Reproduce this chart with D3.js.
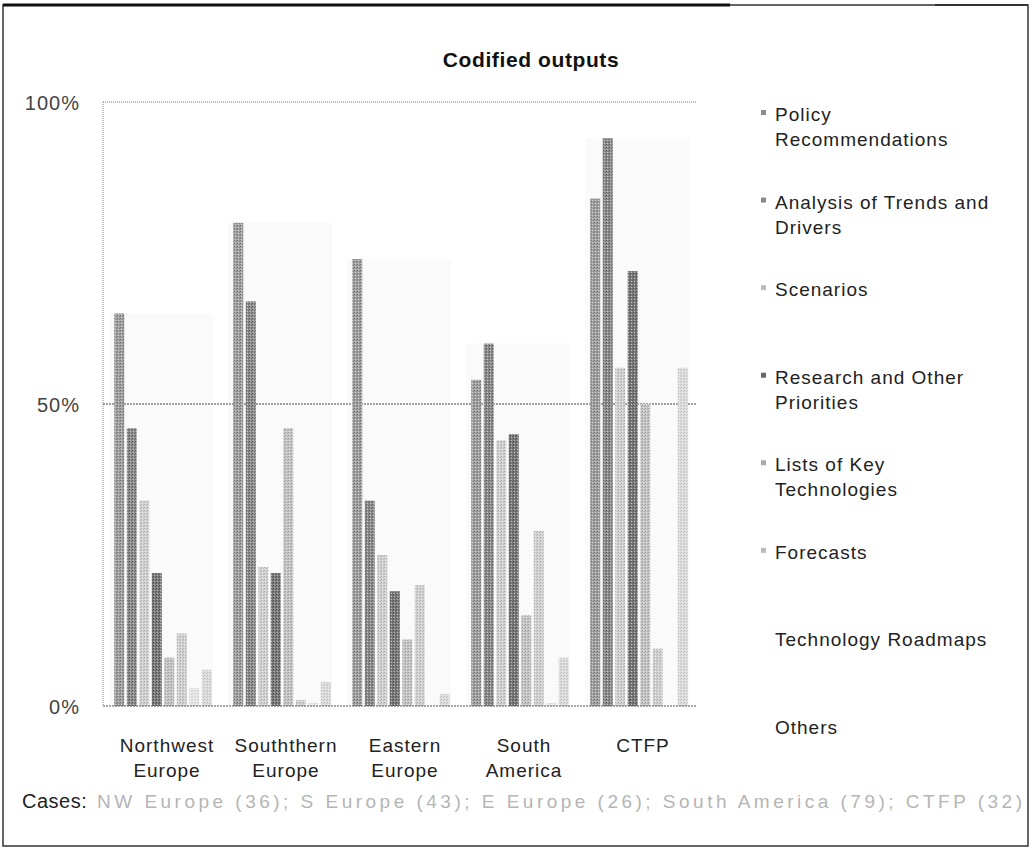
<!DOCTYPE html>
<html>
<head>
<meta charset="utf-8">
<script src="https://cdn.jsdelivr.net/npm/d3@7"></script>
<style>
  html, body { margin: 0; padding: 0; background: #fff; }
  svg { display: block; }
  text { font-family: "Liberation Sans", Arial, sans-serif; }
</style>
</head>
<body>
<svg id="chart" width="1034" height="851"></svg>
<script>
// ---- data ----
const categories = ["Northwest Europe", "Souththern Europe", "Eastern Europe", "South America", "CTFP"];
const categoryLines = [["Northwest", "Europe"], ["Souththern", "Europe"], ["Eastern", "Europe"], ["South", "America"], ["CTFP"]];
const seriesNames = ["Policy Recommendations", "Analysis of Trends and Drivers", "Scenarios",
  "Research and Other Priorities", "Lists of Key Technologies", "Forecasts", "Technology Roadmaps", "Others"];
const legendLines = [["Policy", "Recommendations"], ["Analysis of Trends and", "Drivers"], ["Scenarios"],
  ["Research and Other", "Priorities"], ["Lists of Key", "Technologies"], ["Forecasts"], ["Technology Roadmaps"], ["Others"]];
const policy    = [65, 80, 74, 54, 84];
const analysis  = [46, 67, 34, 60, 94];
const scenarios = [34, 23, 25, 44, 56];
const research  = [22, 22, 19, 45, 72];
const lists     = [8, 46, 11, 15, 50];
const forecasts = [12, 1, 20, 29, 9.5];
const roadmaps  = [3, 0.5, 0, 0.5, 0];
const others    = [6, 4, 2, 8, 56];
const yTicks = [0, 50, 100];
const yTickLabels = ["0%", "50%", "100%"];
const casesLabel = "Cases:";
const casesText = "NW Europe (36); S Europe (43); E Europe (26); South America (79); CTFP (32)";
const titleText = "Codified outputs";

const seriesValues = [policy, analysis, scenarios, research, lists, forecasts, roadmaps, others];
const colors = ["#a2a2a2", "#8e8e8e", "#d2d2d2", "#7c7c7c", "#c6c6c6", "#d2d2d2", "#e6e6e6", "#dcdcdc"];
const dotColors = ["#6e6e6e", "#5a5a5a", "#a8a8a8", "#4a4a4a", "#999", "#aaa", "#c8c8c8", "#bbb"];
const markerColors = ["#8a8a8a", "#888", "#bbb", "#666", "#aaa", "#bbb", "#fff", "#fff"];

const svg = d3.select("#chart");

// textures
const defs = svg.append("defs");
colors.forEach((c, i) => {
  const p = defs.append("pattern").attr("id", "pat" + i).attr("patternUnits", "userSpaceOnUse")
    .attr("width", 3).attr("height", 3);
  p.append("rect").attr("width", 3).attr("height", 3).attr("fill", c);
  p.append("rect").attr("x", 0).attr("y", 0).attr("width", 1).attr("height", 1).attr("fill", dotColors[i]);
  p.append("rect").attr("x", 2).attr("y", 1).attr("width", 1).attr("height", 1).attr("fill", dotColors[i]).attr("opacity", 0.6);
  p.append("rect").attr("x", 1).attr("y", 2).attr("width", 1).attr("height", 1).attr("fill", "#fff").attr("opacity", 0.5);
});

// frame
svg.append("rect").attr("x", 3).attr("y", 5).attr("width", 1025).attr("height", 841)
  .attr("fill", "none").attr("stroke", "#333").attr("stroke-width", 1.5);
svg.append("line").attr("x1", 3).attr("x2", 730).attr("y1", 5).attr("y2", 5)
  .attr("stroke", "#111").attr("stroke-width", 3);
svg.append("line").attr("x1", 935).attr("x2", 1028).attr("y1", 5).attr("y2", 5)
  .attr("stroke", "#333").attr("stroke-width", 2);

// title
svg.append("text").attr("x", 531).attr("y", 67).attr("text-anchor", "middle")
  .attr("font-size", 21).attr("font-weight", "bold").attr("letter-spacing", 0.6)
  .attr("fill", "#111").text(titleText);

// scales
const y = d3.scaleLinear().domain([0, 100]).range([706, 102]);
const x0 = d3.scaleBand().domain(categories).range([103.5, 698.5]).paddingInner(19 / 119).paddingOuter(0.08);
const x1 = d3.scaleBand().domain(seriesNames).range([0, x0.bandwidth()]).paddingInner(0.2).paddingOuter(0.1);

// faint group background
const g = svg.append("g");
categories.forEach((c, i) => {
  const mx = d3.max(seriesValues, s => s[i]);
  g.append("rect").attr("x", x0(c) - 4).attr("y", y(mx))
    .attr("width", x0.bandwidth() + 4).attr("height", y(0) - y(mx))
    .attr("fill", "#fafafa");
});

// plot frame lines (dotted)
const plotL = 103, plotR = 697;
g.append("line").attr("x1", plotL).attr("x2", plotR).attr("y1", y(100)).attr("y2", y(100))
  .attr("stroke", "#777").attr("stroke-width", 1).attr("stroke-dasharray", "1,1");
g.append("line").attr("x1", plotL).attr("x2", plotL).attr("y1", y(100)).attr("y2", y(0))
  .attr("stroke", "#888").attr("stroke-width", 1).attr("stroke-dasharray", "1,1");
g.append("line").attr("x1", plotL).attr("x2", plotR).attr("y1", y(50)).attr("y2", y(50))
  .attr("stroke", "#444").attr("stroke-width", 1.2).attr("stroke-dasharray", "2,1");

// bars
seriesNames.forEach((s, si) => {
  g.selectAll(null).data(seriesValues[si]).enter().append("rect")
    .attr("x", (d, i) => x0(categories[i]) + x1(s))
    .attr("y", d => y(d))
    .attr("width", x1.bandwidth())
    .attr("height", d => y(0) - y(d))
    .attr("fill", "url(#pat" + si + ")");
});

// baseline
g.append("line").attr("x1", plotL).attr("x2", plotR).attr("y1", y(0)).attr("y2", y(0))
  .attr("stroke", "#555").attr("stroke-width", 1).attr("stroke-dasharray", "2,1");

// y axis labels
const yAxis = d3.axisLeft(y).tickValues(yTicks).tickSize(0).tickFormat((d, i) => yTickLabels[i]);
const ya = svg.append("g").attr("transform", "translate(80,0)").call(yAxis);
ya.select(".domain").remove();
ya.selectAll("text").attr("font-size", 20).attr("fill", "#444").attr("letter-spacing", 1)
  .attr("font-family", "Liberation Sans, Arial, sans-serif").attr("dy", "0.35em").attr("x", 0);

// x labels
categories.forEach((c, i) => {
  const cx = x0(c) + x0.bandwidth() / 2 + 4;
  const t = svg.append("text").attr("x", cx).attr("y", 752)
    .attr("text-anchor", "middle").attr("font-size", 19).attr("letter-spacing", 1)
    .attr("fill", "#222");
  categoryLines[i].forEach((ln, k) => {
    t.append("tspan").attr("x", cx).attr("dy", k === 0 ? 0 : 25).text(ln);
  });
});

// legend
const legY = d3.scaleLinear().domain([0, 7]).range([114, 727]);
seriesNames.forEach((s, i) => {
  const cy = legY(i);
  if (i < 6) {
    svg.append("rect").attr("x", 761).attr("y", cy - 4).attr("width", 5).attr("height", 5)
      .attr("fill", markerColors[i]);
  }
  const t = svg.append("text").attr("x", 775).attr("y", cy + 7).attr("font-size", 19)
    .attr("letter-spacing", 1).attr("fill", "#222");
  legendLines[i].forEach((ln, k) => {
    t.append("tspan").attr("x", 775).attr("dy", k === 0 ? 0 : 25).text(ln);
  });
});

// cases
svg.append("text").attr("x", 22).attr("y", 808).attr("font-size", 20).attr("letter-spacing", 0.5)
  .attr("fill", "#222").text(casesLabel);
svg.append("text").attr("x", 97).attr("y", 808).attr("font-size", 19)
  .attr("fill", "#b5b5b5").attr("textLength", 925).attr("lengthAdjust", "spacing").text(casesText);
</script>
</body>
</html>
